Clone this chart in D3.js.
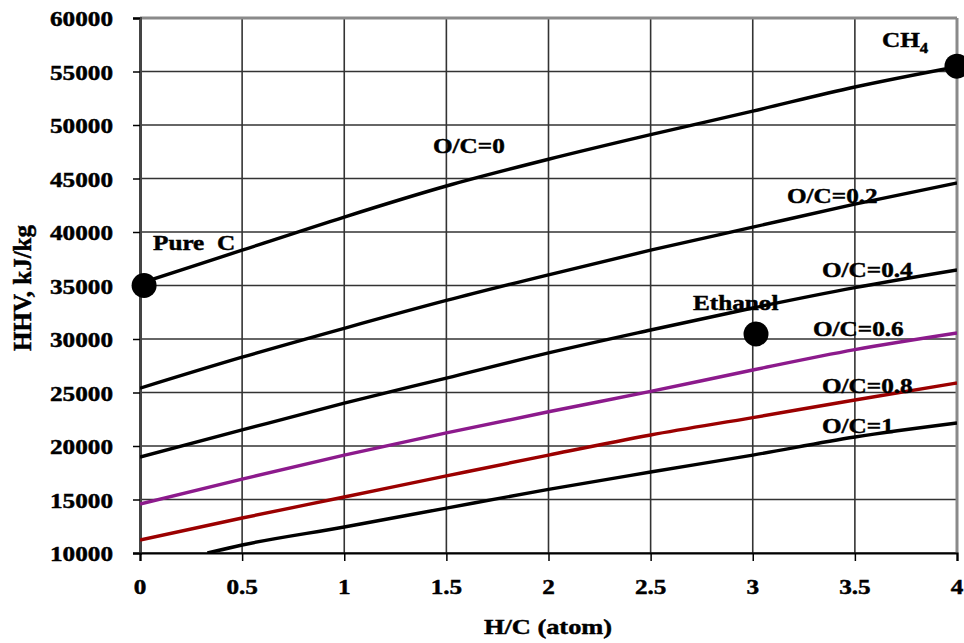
<!DOCTYPE html>
<html><head><meta charset="utf-8">
<script src="https://cdn.jsdelivr.net/npm/d3@7/dist/d3.min.js"></script>
<style>
html,body{margin:0;padding:0;background:#fff;}
text{font-family:"Liberation Serif","Times New Roman",serif;font-weight:bold;fill:#000;stroke:#000;stroke-width:0.45px;}
</style></head>
<body>
<svg id="chart" width="964" height="643"></svg>
<script>
// ---- data ----
const xTicks = [0, 0.5, 1, 1.5, 2, 2.5, 3, 3.5, 4];
const xTickLabels = ["0", "0.5", "1", "1.5", "2", "2.5", "3", "3.5", "4"];
const yTicks = [10000, 15000, 20000, 25000, 30000, 35000, 40000, 45000, 50000, 55000, 60000];
const yTickLabels = ["10000","15000","20000","25000","30000","35000","40000","45000","50000","55000","60000"];

const hc = [0, 0.5, 1, 1.5, 2, 2.5, 3, 3.5, 4];
const oc0  = [35200, 38300, 41400, 44300, 46800, 49100, 51300, 53550, 55450];
const oc02 = [25400, 28300, 31000, 33600, 36000, 38300, 40450, 42600, 44580];
const oc04 = [18970, 21500, 24000, 26350, 28700, 30840, 32900, 34800, 36450];
const oc06 = [14580, 16900, 19150, 21220, 23200, 25100, 27100, 29000, 30560];
const oc08 = [11210, 13270, 15230, 17200, 19150, 21030, 22650, 24300, 25890];
const hc1  = [0.33, 0.5, 1, 1.5, 2, 2.5, 3, 3.5, 4];
const oc1  = [10000, 10750, 12430, 14200, 15950, 17570, 19150, 20840, 22150];

const seriesNames = ["O/C=0", "O/C=0.2", "O/C=0.4", "O/C=0.6", "O/C=0.8", "O/C=1"];
const seriesColors = ["#000000", "#000000", "#000000", "#8c1a8c", "#9b0000", "#000000"];

const pointNames = ["Pure  C", "Ethanol", "CH"];
const pointX = [0.02, 3.016, 4];
const pointY = [35000, 30470, 55500];

const xTitle = "H/C (atom)";
const yTitle = "HHV, kJ/kg";

// ---- layout ----
const W = 964, H = 643;
const m = {left: 140, top: 18, right: 7, bottom: 90};
const svg = d3.select("#chart");
const x = d3.scaleLinear().domain([0, 4]).range([m.left, W - m.right]);
const y = d3.scaleLinear().domain([10000, 60000]).range([H - m.bottom, m.top]);
const SX = 1.2; // horizontal text stretch

function stxt(g, str, px, py, size, anchor) {
  return g.append("text")
    .attr("transform", `translate(${px},${py}) scale(${SX},1)`)
    .attr("text-anchor", anchor || "start")
    .style("font-size", size + "px")
    .style("white-space", "pre")
    .text(str);
}

// grid
const grid = svg.append("g");
grid.selectAll("line.h").data(yTicks.slice(0, -1)).join("line")
  .attr("x1", x(0)).attr("x2", x(4))
  .attr("y1", d => y(d)).attr("y2", d => y(d))
  .attr("stroke", "#333").attr("stroke-width", 1.6);
grid.selectAll("line.v").data(xTicks.slice(1, -1)).join("line")
  .attr("x1", d => x(d)).attr("x2", d => x(d))
  .attr("y1", y(60000)).attr("y2", y(10000))
  .attr("stroke", "#333").attr("stroke-width", 1.6);

// frame
svg.append("line").attr("x1", x(0)).attr("x2", x(4)).attr("y1", y(60000)).attr("y2", y(60000))
  .attr("stroke", "#8a8a8a").attr("stroke-width", 3);
svg.append("line").attr("x1", x(4)).attr("x2", x(4)).attr("y1", y(60000)).attr("y2", y(10000))
  .attr("stroke", "#8a8a8a").attr("stroke-width", 3);

// axes
const yAxis = svg.append("g").attr("transform", `translate(${x(0)},0)`)
  .call(d3.axisLeft(y).tickValues(yTicks).tickSize(7).tickFormat(""));
yAxis.select(".domain").attr("stroke", "#444").attr("stroke-width", 3);
yAxis.selectAll(".tick line").attr("stroke", "#000").attr("stroke-width", 1.5);
const xAxis = svg.append("g").attr("transform", `translate(0,${y(10000)})`)
  .call(d3.axisBottom(x).tickValues(xTicks).tickSize(8).tickFormat(""));
xAxis.select(".domain").attr("stroke", "#000").attr("stroke-width", 2.2);
xAxis.selectAll(".tick line").attr("stroke", "#000").attr("stroke-width", 1.5);

// tick labels
const lab = svg.append("g");
yTicks.forEach((v, i) => stxt(lab, yTickLabels[i], 113, y(v) + 8, 21, "end"));
xTicks.forEach((v, i) => stxt(lab, xTickLabels[i], x(v), 594, 21, "middle"));

// axis titles
stxt(svg, xTitle, 548, 634, 22, "middle");
svg.append("text")
  .attr("transform", `translate(31,288) rotate(-90)`)
  .attr("text-anchor", "middle")
  .style("font-size", "25px")
  .text(yTitle);

// clip
svg.append("clipPath").attr("id", "clip").append("rect")
  .attr("x", x(0)).attr("y", y(60000)).attr("width", x(4) - x(0)).attr("height", y(10000) - y(60000));

const line = d3.line().x(d => x(d[0])).y(d => y(d[1])).curve(d3.curveMonotoneX);
const series = [
  d3.zip(hc, oc0), d3.zip(hc, oc02), d3.zip(hc, oc04),
  d3.zip(hc, oc06), d3.zip(hc, oc08), d3.zip(hc1, oc1)
];
svg.append("g").attr("clip-path", "url(#clip)")
  .selectAll("path").data(series).join("path")
  .attr("d", line)
  .attr("fill", "none")
  .attr("stroke", (d, i) => seriesColors[i])
  .attr("stroke-width", 3.4);

// series labels
const sl = svg.append("g");
const slPos = [[433, 153], [787, 203], [822, 277], [813, 336], [822, 393], [822, 433]];
seriesNames.forEach((n, i) => stxt(sl, n, slPos[i][0], slPos[i][1], 21, "start"));

// points
svg.append("g").selectAll("circle").data(pointX).join("circle")
  .attr("cx", d => x(d)).attr("cy", (d, i) => y(pointY[i]))
  .attr("r", 12.5).attr("fill", "#000");

stxt(svg, pointNames[0], 153, 250, 21, "start");
stxt(svg, pointNames[1], 693, 310, 21, "start");
const ch = svg.append("text")
  .attr("transform", `translate(882,47) scale(${SX},1)`)
  .style("font-size", "21px");
ch.append("tspan").text(pointNames[2]);
ch.append("tspan").attr("dy", 6).style("font-size", "14px").text("4");
</script>
</body></html>
